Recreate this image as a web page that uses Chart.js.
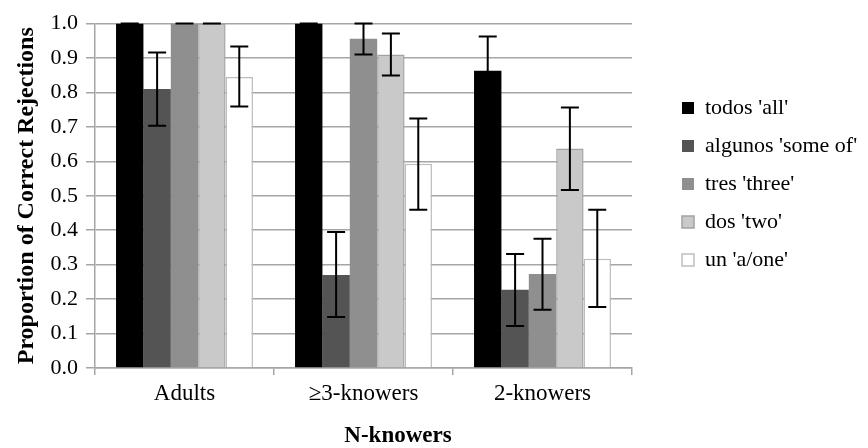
<!DOCTYPE html>
<html>
<head>
<meta charset="utf-8">
<script src="https://cdn.jsdelivr.net/npm/chart.js@4"></script>
<style>
  html, body { margin: 0; padding: 0; background: #fff; }
  #wrap { width: 868px; height: 448px; }
</style>
</head>
<body>
<div id="wrap"><canvas id="chartCanvas" width="868" height="448"></canvas></div>
<script>
// groups on the x axis
const categories = ['Adults', '\u22653-knowers', '2-knowers'];

// proportion of correct rejections, one array per quantifier
const todos   = [1.0, 1.0, 0.863];
const algunos = [0.81, 0.27, 0.227];
const tres    = [1.0, 0.956, 0.273];
const dos     = [1.0, 0.91, 0.637];
const un      = [0.845, 0.593, 0.317];

// error bar ends (low / high)
const todosLo   = [1.0, 1.0, 0.764];
const todosHi   = [1.0, 1.0, 0.962];
const algunosLo = [0.703, 0.148, 0.122];
const algunosHi = [0.916, 0.395, 0.331];
const tresLo    = [1.0, 0.91, 0.169];
const tresHi    = [1.0, 1.0, 0.375];
const dosLo     = [1.0, 0.849, 0.517];
const dosHi     = [1.0, 0.971, 0.756];
const unLo      = [0.759, 0.459, 0.177];
const unHi      = [0.933, 0.724, 0.459];

const yTicks = [0, 0.1, 0.2, 0.3, 0.4, 0.5, 0.6, 0.7, 0.8, 0.9, 1.0];

const serif = "'Liberation Serif', 'Times New Roman', serif";

// error bars drawn on top of each bar from the y scale
const errorBars = {
  id: 'errorBars',
  afterDatasetsDraw(chart) {
    const ctx = chart.ctx;
    const y = chart.scales.y;
    ctx.save();
    ctx.strokeStyle = '#000';
    ctx.lineWidth = 2;
    chart.data.datasets.forEach((ds, i) => {
      const meta = chart.getDatasetMeta(i);
      meta.data.forEach((bar, j) => {
        const top = y.getPixelForValue(ds.errHi[j]);
        const bot = y.getPixelForValue(ds.errLo[j]);
        const cap = 9;
        ctx.beginPath();
        ctx.moveTo(bar.x, top); ctx.lineTo(bar.x, bot);
        ctx.moveTo(bar.x - cap, top); ctx.lineTo(bar.x + cap, top);
        ctx.moveTo(bar.x - cap, bot); ctx.lineTo(bar.x + cap, bot);
        ctx.stroke();
      });
    });
    ctx.restore();
  }
};

// put the legend where the original has it (text runs off the right edge there too)
const legendSpot = {
  id: 'legendSpot',
  beforeDraw(chart) {
    const lg = chart.legend;
    lg.left = 666;
    lg.right = 868;
    lg.width = 202;
    lg.maxWidth = 400;
    lg.top = 0;
    lg.bottom = 368;
  }
};

new Chart(document.getElementById('chartCanvas'), {
  type: 'bar',
  data: {
    labels: categories,
    datasets: [
      { label: "todos 'all'", data: todos, errLo: todosLo, errHi: todosHi,
        backgroundColor: '#000000', borderColor: '#000000', borderWidth: 0 },
      { label: "algunos 'some of'", data: algunos, errLo: algunosLo, errHi: algunosHi,
        backgroundColor: '#545454', borderColor: '#545454', borderWidth: 0 },
      { label: "tres 'three'", data: tres, errLo: tresLo, errHi: tresHi,
        backgroundColor: '#8f8f8f', borderColor: '#8f8f8f', borderWidth: 0 },
      { label: "dos 'two'", data: dos, errLo: dosLo, errHi: dosHi,
        backgroundColor: '#c9c9c9', borderColor: '#a3a3a3', borderWidth: 1.5 },
      { label: "un 'a/one'", data: un, errLo: unLo, errHi: unHi,
        backgroundColor: '#ffffff', borderColor: '#bdbdbd', borderWidth: 1.5 }
    ]
  },
  options: {
    responsive: false,
    animation: false,
    layout: { padding: { top: 23.5, right: 72, bottom: 0, left: 0 } },
    datasets: { bar: { categoryPercentage: 0.765, barPercentage: 1.0 } },
    plugins: {
      tooltip: { enabled: false },
      title: {
        display: true, position: 'bottom', text: 'N-knowers', color: '#000',
        padding: 0, font: { family: serif, size: 23, weight: 'bold', lineHeight: 1.0 }
      },
      legend: {
        position: 'right',
        maxWidth: 164,
        labels: {
          boxWidth: 12, boxHeight: 12, padding: 16,
          color: '#000',
          font: { family: serif, size: 22 }
        }
      }
    },
    scales: {
      x: {
        grid: { drawOnChartArea: false, drawTicks: true, tickLength: 7, color: '#a6a6a6', lineWidth: 1.5 },
        border: { display: true, color: '#a6a6a6', width: 1.5 },
        ticks: { color: '#000', padding: 5, font: { family: serif, size: 23 } },
        afterFit(s) { s.height = 57; }
      },
      y: {
        min: 0, max: 1,
        afterBuildTicks(s) { s.ticks = yTicks.map(v => ({ value: v })); },
        grid: { color: '#a6a6a6', lineWidth: 1.5, tickLength: 9 },
        border: { display: true, color: '#a6a6a6', width: 1.5 },
        ticks: { color: '#000', padding: 8, font: { family: serif, size: 22 },
                 callback: v => v.toFixed(1) },
        title: { display: true, text: 'Proportion of Correct Rejections', color: '#000',
                 padding: { top: 12, bottom: 0 }, font: { family: serif, size: 24, weight: 'bold' } },
        afterFit(s) { s.width = 95; }
      }
    }
  },
  plugins: [errorBars, legendSpot]
});
</script>
</body>
</html>
